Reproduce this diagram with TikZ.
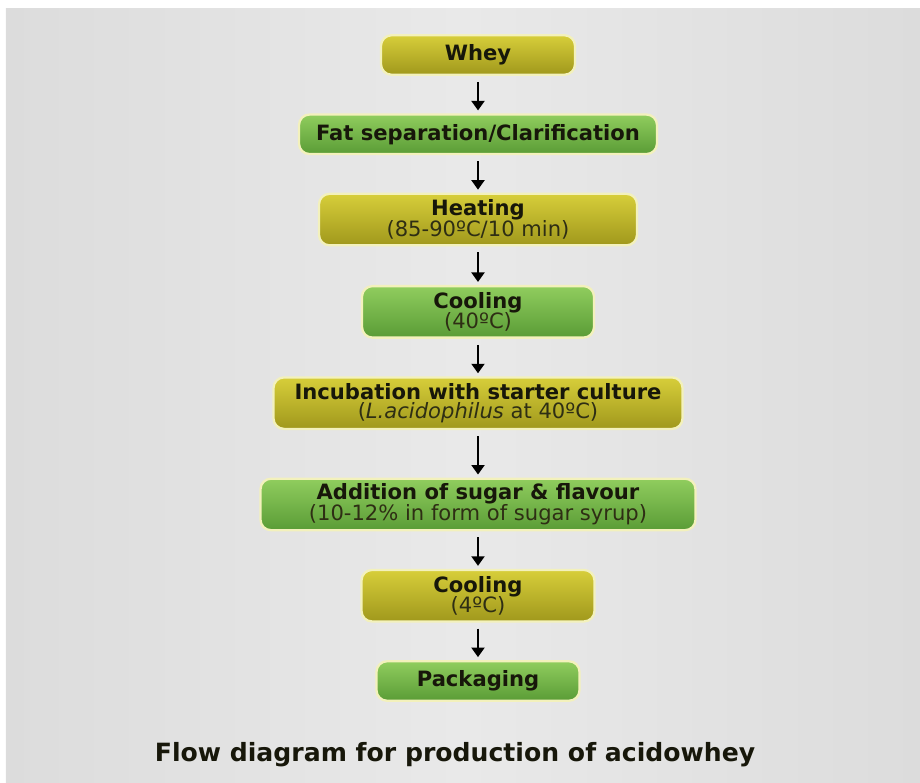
\documentclass[tikz,border=0pt]{standalone}
\usepackage{fontspec}
\setmainfont{DejaVu Sans}
\usetikzlibrary{arrows.meta, positioning}
\definecolor{bgGray}{HTML}{DCDCDC}
\definecolor{bgLight}{HTML}{E9E9E9}
\definecolor{yTop}{HTML}{D7CE3A}
\definecolor{yBot}{HTML}{A0981C}
\definecolor{gTop}{HTML}{90CD5E}
\definecolor{gBot}{HTML}{5A9C36}
\definecolor{bdr}{HTML}{F3F1BC}
\definecolor{txt}{HTML}{17170A}
\definecolor{subtxt}{HTML}{2E2E14}
\tikzset{
  B/.style={draw=bdr, line width=1.3pt, rounded corners=6pt,
    minimum height=0.79cm, inner sep=1pt, align=center, text=txt,
    font=\fontsize{12}{10.6}\selectfont\bfseries},
  Bt/.style={B, minimum height=1.03cm},
  Yb/.style={top color=yTop, bottom color=yBot},
  Gb/.style={top color=gTop, bottom color=gBot},
  A/.style={-{Triangle[length=1.9mm,width=2.6mm]}, line width=1.1pt,
    shorten <=1.2mm, shorten >=0.6mm},
}
\newcommand{\subl}[1]{{\mdseries\color{subtxt}#1}}

\begin{document}
\begin{tikzpicture}[node distance=0.75cm]
\useasboundingbox (-9.56,-14.54) rectangle (8.84,1.1);
\shade[left color=bgGray, right color=bgGray, middle color=bgLight]
  (-9.44,-14.54) rectangle (8.84,0.94);

% main column
\node[B, Yb, minimum width=3.88cm] (whey) {Whey};
\node[B, Gb, minimum width=7.16cm, below=of whey] (fat) {Fat separation/Clarification};
\node[Bt, Yb, minimum width=6.36cm, below=of fat] (heat) {%
  Heating\\[-1pt]\subl{(85-90ºC/10 min)}};
\node[Bt, Gb, minimum width=4.64cm, below=0.77cm of heat] (cool1) {%
  Cooling\\[-1pt]\subl{(40ºC)}};
\node[Bt, Yb, minimum width=8.18cm, below=of cool1] (incub) {%
  Incubation with starter culture\\[0.5pt]
  \subl{(\textit{L.acidophilus} at 40ºC)}};
\node[Bt, Gb, minimum width=8.7cm, below=0.95cm of incub] (sugar) {%
  Addition of sugar \& flavour\\[-1pt]
  \subl{(10-12\% in form of sugar syrup)}};
\node[Bt, Yb, minimum width=4.66cm, below=of sugar] (cool2) {%
  Cooling\\[-1pt]\subl{(4ºC)}};
\node[B, Gb, minimum width=4.06cm, below=of cool2] (pack) {Packaging};

% arrows
\foreach \a/\b in {whey/fat, fat/heat, heat/cool1, cool1/incub,
  incub/sugar, sugar/cool2, cool2/pack}
  \draw[A] (\a) -- (\b);

% caption
\node[font=\fontsize{14.3}{16}\selectfont\bfseries, text=txt] (cap)
  at (-0.46,-14.0) {Flow diagram for production of acidowhey};

\end{tikzpicture}
\end{document}
